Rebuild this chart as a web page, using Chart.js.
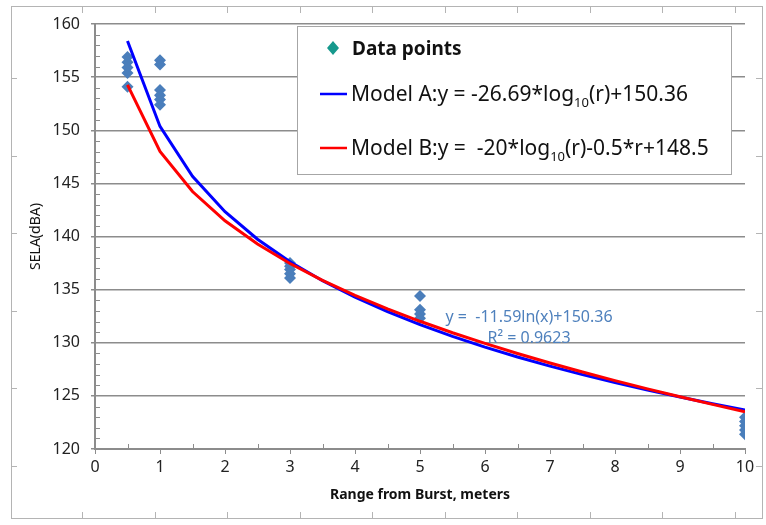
<!DOCTYPE html>
<html>
<head>
<meta charset="utf-8">
<script src="https://cdn.jsdelivr.net/npm/chart.js@4.4.1/dist/chart.umd.min.js"></script>
<style>
  html, body { margin: 0; padding: 0; background: #fff; }
  #wrap { width: 766px; height: 525px; }
</style>
</head>
<body>
<div id="wrap"><canvas id="grafico" width="766" height="525"></canvas></div>
<script>
// mediciones: distancia (m) y nivel SELA (dBA)
const rangoPuntos = [0.5, 0.5, 0.5, 0.5, 0.5,
  1, 1, 1, 1, 1, 1,
  3, 3, 3, 3, 3,
  5, 5, 5, 5,
  10, 10, 10, 10, 10];
const selaPuntos = [156.9, 156.4, 155.9, 155.4, 154.1,
  156.6, 156.2, 153.8, 153.3, 152.9, 152.4,
  137.5, 137.2, 136.9, 136.5, 136.1,
  134.4, 133.1, 132.7, 132.3,
  123.0, 122.6, 122.2, 121.8, 121.4];

// curvas de los modelos tabuladas cada 0.5 m
const rangoModelo = [0.5, 1, 1.5, 2, 2.5, 3, 3.5, 4, 4.5, 5, 5.5, 6, 6.5, 7, 7.5, 8, 8.5, 9, 9.5, 10];
const modeloA = [158.40, 150.36, 145.66, 142.33, 139.74, 137.63, 135.84, 134.29, 132.93, 131.70,
  130.60, 129.59, 128.66, 127.80, 127.00, 126.26, 125.55, 124.89, 124.26, 123.67];
const modeloB = [154.27, 148.00, 144.23, 141.48, 139.29, 137.46, 135.87, 134.46, 133.19, 132.02,
  130.94, 129.94, 128.99, 128.10, 127.25, 126.44, 125.66, 124.92, 124.20, 123.50];

// textos de la leyenda y de la línea de tendencia
const textoPuntos = 'Data points';
const textoModeloA = ['Model A:y = -26.69*log', '10', '(r)+150.36'];
const textoModeloB = ['Model B:y =  -20*log', '10', '(r)-0.5*r+148.5'];
const textoTendencia = ['y =  -11.59ln(x)+150.36', 'R\u00B2 = 0.9623'];

const GRIS = '#8c8c8c';
const FUENTE = "'Noto Sans', sans-serif";

function pares(xs, ys) {
  return xs.map((x, i) => ({ x: x, y: ys[i] }));
}

// marco exterior con marcas
const marco = {
  id: 'marco',
  beforeDraw(chart) {
    const ctx = chart.ctx;
    ctx.save();
    ctx.strokeStyle = '#b4b4b4';
    ctx.lineWidth = 1;
    ctx.strokeRect(11.5, 6.5, 751, 512);
    ctx.beginPath();
    for (let y = 78; y < 518; y += 77.5) {
      ctx.moveTo(11, Math.round(y) + 0.5); ctx.lineTo(17, Math.round(y) + 0.5);
      ctx.moveTo(762, Math.round(y) + 0.5); ctx.lineTo(756, Math.round(y) + 0.5);
    }
    for (let x = 82; x < 762; x += 72.5) {
      ctx.moveTo(Math.round(x) + 0.5, 7); ctx.lineTo(Math.round(x) + 0.5, 13);
      ctx.moveTo(Math.round(x) + 0.5, 518); ctx.lineTo(Math.round(x) + 0.5, 512);
    }
    ctx.stroke();
    ctx.restore();
  }
};

// marcas menores de los ejes
const marcasMenores = {
  id: 'marcasMenores',
  afterDatasetsDraw(chart) {
    const ctx = chart.ctx;
    const sx = chart.scales.x, sy = chart.scales.y;
    ctx.save();
    ctx.strokeStyle = GRIS;
    ctx.lineWidth = 1;
    ctx.beginPath();
    for (let v = 121; v < 160; v++) {
      if (v % 5 === 0) continue;
      const py = Math.round(sy.getPixelForValue(v)) + 0.5;
      ctx.moveTo(sx.left, py); ctx.lineTo(sx.left + 5, py);
    }
    for (let v = 0.5; v < 10; v += 1) {
      const px = Math.round(sx.getPixelForValue(v)) + 0.5;
      ctx.moveTo(px, sy.bottom); ctx.lineTo(px, sy.bottom - 5);
    }
    ctx.stroke();
    ctx.restore();
  }
};

function textoConSubindice(ctx, partes, x, y, tam) {
  ctx.font = tam + 'px ' + FUENTE;
  ctx.fillText(partes[0], x, y);
  x += ctx.measureText(partes[0]).width;
  ctx.font = Math.round(tam * 0.62) + 'px ' + FUENTE;
  ctx.fillText(partes[1], x, y + 6);
  x += ctx.measureText(partes[1]).width;
  ctx.font = tam + 'px ' + FUENTE;
  ctx.fillText(partes[2], x, y);
}

// leyenda propia (los subíndices no caben en la leyenda de Chart.js)
const leyenda = {
  id: 'leyenda',
  afterDraw(chart) {
    const ctx = chart.ctx;
    ctx.save();
    ctx.fillStyle = '#fff';
    ctx.strokeStyle = '#a6a6a6';
    ctx.lineWidth = 1;
    ctx.fillRect(297, 26, 434, 148);
    ctx.strokeRect(297.5, 26.5, 434, 148);

    // rombo de los puntos
    ctx.fillStyle = '#16998d';
    ctx.beginPath();
    ctx.moveTo(333, 41); ctx.lineTo(339, 48); ctx.lineTo(333, 55); ctx.lineTo(327, 48);
    ctx.closePath();
    ctx.fill();

    ctx.fillStyle = '#111';
    ctx.textBaseline = 'alphabetic';
    ctx.font = 'bold 19px ' + FUENTE;
    ctx.fillText(textoPuntos, 352, 55);

    ctx.lineWidth = 2.5;
    ctx.strokeStyle = '#0000ff';
    ctx.beginPath(); ctx.moveTo(320, 94); ctx.lineTo(347, 94); ctx.stroke();
    ctx.strokeStyle = '#ff0000';
    ctx.beginPath(); ctx.moveTo(320, 148); ctx.lineTo(347, 148); ctx.stroke();

    ctx.fillStyle = '#111';
    textoConSubindice(ctx, textoModeloA, 351, 101, 21);
    textoConSubindice(ctx, textoModeloB, 351, 155, 21);

    // ecuación de la tendencia
    ctx.fillStyle = '#4f81bd';
    ctx.font = '16px ' + FUENTE;
    ctx.textAlign = 'center';
    ctx.fillText(textoTendencia[0], 529, 322);
    ctx.fillText(textoTendencia[1], 529, 343);
    ctx.restore();
  }
};

new Chart(document.getElementById('grafico'), {
  type: 'scatter',
  data: {
    datasets: [
      {
        label: 'Model B',
        data: pares(rangoModelo, modeloB),
        showLine: true,
        borderColor: '#ff0000',
        borderWidth: 3,
        pointRadius: 0,
        order: 0
      },
      {
        label: 'Model A',
        data: pares(rangoModelo, modeloA),
        showLine: true,
        borderColor: '#0000ff',
        borderWidth: 3,
        pointRadius: 0,
        order: 1
      },
      {
        label: 'Data points',
        data: pares(rangoPuntos, selaPuntos),
        pointStyle: 'rectRot',
        pointRadius: 6,
        backgroundColor: '#4a7ebb',
        borderWidth: 0,
        order: 2
      }
    ]
  },
  options: {
    responsive: false,
    animation: false,
    layout: { padding: { left: 0, top: 24, right: 21, bottom: 0 } },
    plugins: {
      legend: { display: false },
      tooltip: { enabled: false }
    },
    scales: {
      x: {
        type: 'linear',
        min: 0,
        max: 10,
        afterFit: s => { s.height = 76; },
        ticks: { stepSize: 1, color: '#222', font: { family: FUENTE, size: 16 }, padding: 4 },
        grid: { drawOnChartArea: false, color: GRIS, tickLength: 5 },
        border: { color: GRIS, width: 2 },
        title: {
          display: true,
          text: 'Range from Burst, meters',
          color: '#111',
          font: { family: FUENTE, size: 14, weight: 'bold' },
          padding: { top: 0, bottom: 22 }
        }
      },
      y: {
        min: 120,
        max: 160,
        afterFit: s => { s.width = 95; },
        ticks: { stepSize: 5, color: '#222', font: { family: FUENTE, size: 16 }, padding: 11 },
        grid: { color: GRIS, lineWidth: 1.5, tickLength: 4 },
        border: { color: GRIS, width: 2 },
        title: {
          display: true,
          text: 'SELA(dBA)',
          color: '#111',
          font: { family: FUENTE, size: 14 },
          padding: { top: 28, bottom: 0 }
        }
      }
    }
  },
  plugins: [marco, marcasMenores, leyenda]
});
</script>
</body>
</html>
